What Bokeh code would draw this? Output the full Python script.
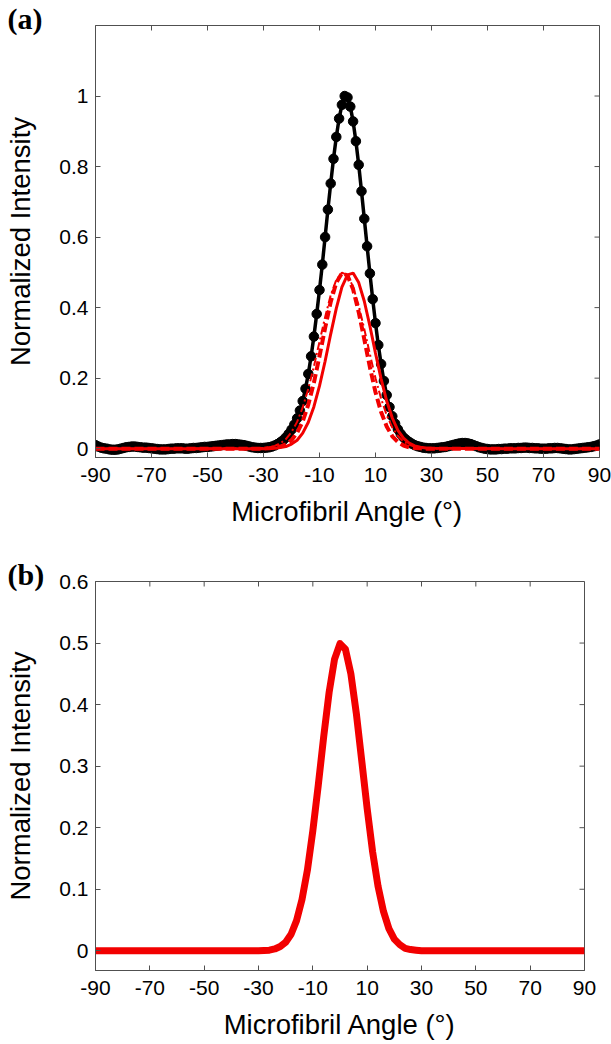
import math
from bokeh.plotting import figure
from bokeh.layouts import column
from bokeh.models import Range1d, FixedTicker, NumeralTickFormatter, Title
from bokeh.embed import file_html
from bokeh.resources import INLINE

# ---------------- data ----------------
# panel (a): measured profile, 1 degree steps from -90 to 90
angle_a = list(range(-90, 91))
measured = [
    0.010, 0.006, 0.003, 0.001, 0.000, -0.002, -0.003, -0.003, -0.002, 0.000,   # -90..-81
    0.002, 0.004, 0.005, 0.006, 0.006, 0.005, 0.004, 0.003, 0.003, 0.002,      # -80..-71
    0.001, 0.000, -0.001, -0.002, -0.002, -0.002, -0.001, 0.000, 0.000, 0.001,  # -70..-61
    0.001, 0.001, 0.000, 0.000, 0.001, 0.002, 0.002, 0.003, 0.004, 0.005,      # -60..-51
    0.005, 0.006, 0.007, 0.008, 0.009, 0.010, 0.011, 0.012, 0.012, 0.013,      # -50..-41
    0.013, 0.012, 0.011, 0.010, 0.008, 0.006, 0.004, 0.003, 0.002, 0.002,      # -40..-31
    0.002, 0.003, 0.004, 0.006, 0.009, 0.013, 0.018, 0.024, 0.032, 0.042,      # -30..-21
    0.054, 0.068, 0.086, 0.108, 0.135, 0.170, 0.212, 0.262, 0.318, 0.382,      # -20..-11
    0.450, 0.522, 0.600, 0.678, 0.752, 0.822, 0.884, 0.936, 0.975, 1.000,      # -10..-1
    0.996,                                                                      # 0
    0.970, 0.928, 0.872, 0.805, 0.730, 0.652, 0.574, 0.497, 0.424, 0.356,      # 1..10
    0.294, 0.240, 0.192, 0.152, 0.118, 0.092, 0.071, 0.055, 0.042, 0.032,      # 11..20
    0.025, 0.019, 0.014, 0.010, 0.007, 0.005, 0.003, 0.002, 0.001, 0.001,      # 21..30
    0.001, 0.002, 0.003, 0.004, 0.005, 0.007, 0.009, 0.011, 0.013, 0.015,      # 31..40
    0.016, 0.016, 0.015, 0.013, 0.010, 0.007, 0.004, 0.002, 0.000, -0.001,     # 41..50
    -0.002, -0.002, -0.002, -0.001, -0.001, 0.000, 0.000, 0.001, 0.001, 0.001, # 51..60
    0.002, 0.002, 0.003, 0.003, 0.002, 0.002, 0.001, 0.001, 0.000, 0.000,      # 61..70
    0.000, 0.001, 0.001, 0.002, 0.002, 0.001, 0.000, -0.001, -0.002, -0.002,   # 71..80
    -0.001, 0.000, 0.001, 0.002, 0.003, 0.004, 0.005, 0.007, 0.009, 0.012,     # 81..90
]

# fitted component curves (panel a) and panel (b) curve
angle_fit = [-90, -60, -30, -28, -26, -24, -22, -20, -18, -16, -14, -12, -10, -8, -6, -4, -2,
             0, 2, 4, 6, 8, 10, 12, 14, 16, 18, 20, 22, 24, 26, 28, 30, 60, 90]
fit_solid = [0.0, 0.0, 0.000, 0.001, 0.001, 0.003, 0.006, 0.013, 0.024, 0.044, 0.075, 0.119, 0.178,
             0.248, 0.325, 0.398, 0.458, 0.493, 0.498, 0.471, 0.418, 0.348, 0.271, 0.198, 0.135,
             0.087, 0.052, 0.030, 0.016, 0.008, 0.004, 0.002, 0.001, 0.0, 0.0]
fit_dashed = [0.0, 0.0, 0.000, 0.001, 0.003, 0.006, 0.012, 0.024, 0.045, 0.077, 0.125, 0.187, 0.262,
              0.342, 0.416, 0.471, 0.498, 0.491, 0.452, 0.387, 0.310, 0.231, 0.160, 0.104, 0.063,
              0.035, 0.019, 0.009, 0.004, 0.002, 0.001, 0.000, 0.000, 0.0, 0.0]
fit_dashdot = [0.0, 0.0, 0.002, 0.004, 0.008, 0.015, 0.027, 0.047, 0.076, 0.117, 0.170, 0.233, 0.303,
               0.373, 0.435, 0.479, 0.499, 0.492, 0.459, 0.406, 0.339, 0.268, 0.200, 0.142, 0.095,
               0.060, 0.036, 0.020, 0.011, 0.006, 0.003, 0.001, 0.000, 0.0, 0.0]
curve_b = [0.0, 0.0, 0.000, 0.0005, 0.001, 0.003, 0.007, 0.014, 0.027, 0.049, 0.083, 0.131, 0.195,
           0.269, 0.348, 0.420, 0.474, 0.499, 0.490, 0.450, 0.386, 0.309, 0.231, 0.161, 0.105,
           0.064, 0.036, 0.019, 0.010, 0.004, 0.002, 0.001, 0.000, 0.0, 0.0]

x_ticks = [-90, -70, -50, -30, -10, 10, 30, 50, 70, 90]
y_ticks_a = [0, 0.2, 0.4, 0.6, 0.8, 1.0]
y_ticks_b = [0, 0.1, 0.2, 0.3, 0.4, 0.5, 0.6]
x_lim = (-90, 90)
y_lim_a = (-0.025, 1.2)
y_lim_b = (-0.032, 0.6)

RED = "#f20000"
AX = "#505050"
FONT = "Liberation Sans"


def style(p, yticks, ylim, tag):
    p.xgrid.visible = False
    p.ygrid.visible = False
    p.outline_line_color = AX
    p.xaxis.ticker = FixedTicker(ticks=x_ticks)
    p.xaxis.major_label_overrides = {t: str(t) for t in x_ticks}
    p.yaxis.ticker = FixedTicker(ticks=yticks)
    p.yaxis.formatter = NumeralTickFormatter(format="0.[0]")
    for ax in (p.xaxis[0], p.yaxis[0]):
        ax.axis_line_color = AX
        ax.major_tick_line_color = AX
        ax.major_tick_in = 5
        ax.major_tick_out = 0
        ax.minor_tick_line_color = None
        ax.major_label_text_font = FONT
        ax.major_label_text_font_size = "21px"
        ax.major_label_text_color = "black"
        ax.axis_label_text_font = FONT
        ax.axis_label_text_font_size = "27.5px"
        ax.axis_label_text_font_style = "normal"
        ax.axis_label_text_color = "black"
    p.xaxis.major_label_standoff = 10
    p.xaxis.axis_label_standoff = 11
    p.yaxis.major_label_standoff = 7
    p.yaxis.axis_label_standoff = 20
    p.xaxis.axis_label = "Microfibril Angle (°)"
    p.yaxis.axis_label = "Normalized Intensity"
    # inward tick marks on the top and right edges of the box
    p.ray(x=x_ticks, y=[ylim[1]] * len(x_ticks), length=5, length_units="screen",
          angle=-math.pi / 2, line_color=AX, line_width=1)
    p.ray(x=[x_lim[1]] * len(yticks), y=yticks, length=5, length_units="screen",
          angle=math.pi, line_color=AX, line_width=1)
    # panel tag, e.g. "(a)"
    p.add_layout(Title(text=tag, align="left", offset=-88, standoff=-18,
                       text_font="Liberation Serif", text_font_size="30px",
                       text_font_style="bold", text_color="black"), "above")


# ---------------- panel (a) ----------------
pa = figure(width=611, height=548, x_range=Range1d(*x_lim), y_range=Range1d(*y_lim_a),
            output_backend="svg", toolbar_location=None,
            min_border_left=95, min_border_right=12, min_border_top=25, min_border_bottom=91)
style(pa, y_ticks_a, y_lim_a, "(a)")
pa.line(angle_a, measured, line_color="black", line_width=3.5)
pa.scatter(angle_a, measured, size=9.5, color="black", marker="circle")
pa.line(angle_fit, fit_dashdot, line_color=RED, line_width=2, line_dash="8 3 2 3")
pa.line(angle_fit, fit_dashed, line_color=RED, line_width=4, line_dash="9 4")
pa.line(angle_fit, fit_solid, line_color=RED, line_width=3)

# ---------------- panel (b) ----------------
pb = figure(width=596, height=494, x_range=Range1d(*x_lim), y_range=Range1d(*y_lim_b),
            output_backend="svg", toolbar_location=None,
            min_border_left=95, min_border_right=12, min_border_top=33, min_border_bottom=67)
style(pb, y_ticks_b, y_lim_b, "(b)")
pb.line(angle_fit, curve_b, line_color=RED, line_width=7, line_join="round")

layout = column(pa, pb)
open("out.html", "w").write(file_html(layout, INLINE))
